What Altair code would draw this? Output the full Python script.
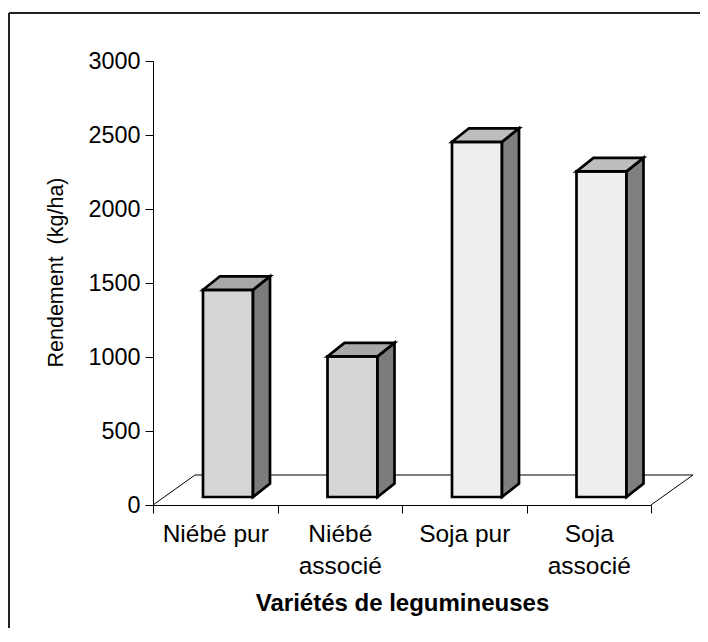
import json
import altair as alt
import pandas as pd

# ---- data ----
categories = ["Niébé pur", "Niébé associé", "Soja pur", "Soja associé"]
label_lines = [["Niébé pur"], ["Niébé", "associé"], ["Soja pur"], ["Soja", "associé"]]
values = [1400, 950, 2400, 2200]
groups = ["Niébé", "Niébé", "Soja", "Soja"]
y_ticks = [0, 500, 1000, 1500, 2000, 2500, 3000]
x_tick_values = [0, 0.5, 1, 1.5, 2, 2.5, 3, 3.5, 4]

# ---- style / geometry constants ----
W, H = 498, 444
UX = 4 / W          # x data units per pixel
UY = 3000 / H       # y data units per pixel
BAR_LEFT = 50 * UX
BAR_W = 50 * UX
BASE = 8 * UY
SIDE_DX = 17 * UX
SIDE_DY = 13.5 * UY
FLOOR_DX = 42 * UX
FLOOR_DY = 30 * UY

front_fill = {"Niébé": "#d6d6d6", "Soja": "#efefef"}
side_fill = {"Niébé": "#7c7c7c", "Soja": "#7f7f7f"}
top_fill = {"Niébé": "#a8a8a8", "Soja": "#bdbdbd"}

front_rows, side_rows, top_rows = [], [], []
for i, (c, v, g) in enumerate(zip(categories, values, groups)):
    x0 = i + BAR_LEFT
    x1 = x0 + BAR_W
    top = BASE + v
    front_rows.append({"cat": c, "x0": x0, "x1": x1, "y0": BASE, "y1": top, "fill": front_fill[g]})
    side_rows.append({"id": i, "x": x1, "top": top, "bot": BASE, "fill": side_fill[g]})
    side_rows.append({"id": i, "x": x1 + SIDE_DX, "top": top + SIDE_DY, "bot": BASE + SIDE_DY, "fill": side_fill[g]})
    top_rows.append({"id": i, "y": top, "xa": x0, "xb": x1, "fill": top_fill[g]})
    top_rows.append({"id": i, "y": top + SIDE_DY, "xa": x0 + SIDE_DX, "xb": x1 + SIDE_DX, "fill": top_fill[g]})

floor_rows = [
    {"o": 0, "x": 0, "y": 0},
    {"o": 1, "x": FLOOR_DX, "y": FLOOR_DY},
    {"o": 2, "x": 4 + FLOOR_DX, "y": FLOOR_DY},
    {"o": 3, "x": 4, "y": 0},
]

label_expr = "".join(
    f"datum.value == {i + 0.5} ? {json.dumps(lines, ensure_ascii=False)} : "
    for i, lines in enumerate(label_lines)
) + "''"

x_scale = alt.Scale(domain=[0, 4], nice=False, zero=False)
y_scale = alt.Scale(domain=[0, 3000], nice=False)

x_axis = alt.Axis(
    values=x_tick_values,
    labelExpr=label_expr,
    labelOverlap=False,
    labelFlush=False,
    labelBound=False,
    tickSize=8,
    labelPadding=9,
    labelFontSize=24.5,
    labelLineHeight=32,
    tickOpacity={"condition": {"test": "datum.value % 1 === 0", "value": 1}, "value": 0},
    title="Variétés de legumineuses",
    titleFontSize=24,
    titleFontWeight="bold",
    titleX=W / 2,
    titleY=105,
    titleBaseline="alphabetic",
)
y_axis = alt.Axis(
    values=y_ticks,
    format="d",
    tickSize=8,
    labelPadding=5,
    labelFontSize=23.4,
    title="Rendement \u00a0(kg/ha)",
    titleFontSize=21.5,
    titleFontWeight="normal",
    titleX=-97,
    titleY=211,
    titleBaseline="middle",
)

dummy = pd.DataFrame({"a": [0]})
frame_top = alt.Chart(dummy).mark_rule(color="#222222", strokeWidth=2).encode(
    x=alt.value(-144), x2=alt.value(547), y=alt.value(-48), y2=alt.value(-48)
)
frame_left = alt.Chart(dummy).mark_rule(color="#222222", strokeWidth=2).encode(
    x=alt.value(-144), x2=alt.value(-144), y=alt.value(-48), y2=alt.value(567)
)

floor = alt.Chart(pd.DataFrame(floor_rows)).mark_line(color="black", strokeWidth=1).encode(
    x=alt.X("x:Q", scale=x_scale, axis=x_axis),
    y=alt.Y("y:Q", scale=y_scale, axis=y_axis),
    order="o:Q",
)

front = alt.Chart(pd.DataFrame(front_rows)).mark_rect(stroke="black", strokeWidth=2.7).encode(
    x=alt.X("x0:Q", scale=x_scale),
    x2="x1:Q",
    y=alt.Y("y0:Q", scale=y_scale),
    y2="y1:Q",
    fill=alt.Fill("fill:N", scale=None),
)

side = alt.Chart(pd.DataFrame(side_rows)).mark_area(
    orient="vertical", stroke="black", strokeWidth=2.7, strokeJoin="miter"
).encode(
    x=alt.X("x:Q", scale=x_scale),
    y=alt.Y("top:Q", scale=y_scale, stack=False),
    y2="bot:Q",
    detail="id:N",
    fill=alt.Fill("fill:N", scale=None),
)

topf = alt.Chart(pd.DataFrame(top_rows)).mark_area(
    orient="horizontal", stroke="black", strokeWidth=2.7, strokeJoin="miter"
).encode(
    y=alt.Y("y:Q", scale=y_scale),
    x=alt.X("xa:Q", scale=x_scale, stack=False),
    x2="xb:Q",
    detail="id:N",
    fill=alt.Fill("fill:N", scale=None),
)

chart = (
    alt.layer(frame_top, frame_left, floor, front, side, topf)
    .properties(
        width=W,
        height=H,
        autosize=alt.AutoSizeParams(type="none"),
        padding={"left": 145, "top": 53, "right": 49, "bottom": 123},
    )
    .configure_view(stroke=None)
    .configure_axis(
        grid=False,
        labelFont="Liberation Sans",
        titleFont="Liberation Sans",
        labelColor="black",
        titleColor="black",
        domainColor="black",
        tickColor="black",
        domainWidth=1,
        tickWidth=1,
    )
)

chart.save("out.html", embed_options={"renderer": "svg", "actions": False})
